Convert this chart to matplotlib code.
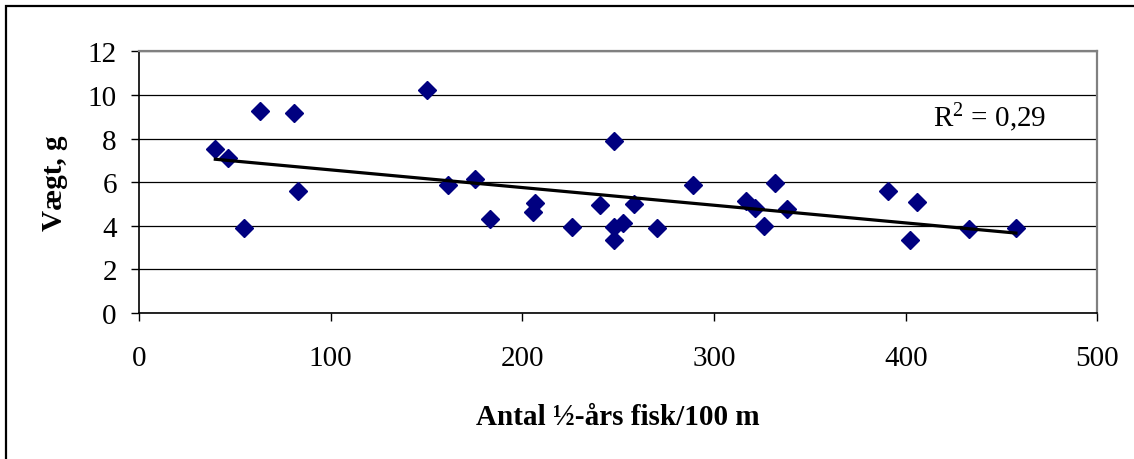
import matplotlib.pyplot as plt
import numpy as np
from matplotlib.patches import Rectangle

plt.rcParams['font.family'] = ['Liberation Serif', 'DejaVu Serif']
plt.rcParams['mathtext.fontset'] = 'custom'
plt.rcParams['mathtext.rm'] = 'Liberation Serif'
plt.rcParams['mathtext.it'] = 'Liberation Serif'

# antal 1/2-aars fisk pr. 100 m og gennemsnitsvaegt (g)
antal = [39.8, 46.6, 54.6, 63.3, 80.8, 83.1, 150.4, 161.3, 175.2, 182.9,
         205.3, 206.4, 225.8, 240.4, 247.6, 247.6, 247.6, 252.6, 258.5, 270.3,
         288.8, 316.6, 321.3, 325.9, 332.0, 338.1, 391.0, 402.5, 405.7, 433.0,
         457.5]
vaegt = [7.53, 7.10, 3.88, 9.26, 9.16, 5.61, 10.22, 5.87, 6.14, 4.32,
         4.65, 5.04, 3.96, 4.94, 7.87, 3.96, 3.36, 4.15, 5.01, 3.88,
         5.88, 5.12, 4.82, 3.98, 5.96, 4.75, 5.62, 3.36, 5.10, 3.87,
         3.90]
r2_tekst = '0,29'

xticks = [0, 100, 200, 300, 400, 500]
yticks = [0, 2, 4, 6, 8, 10, 12]

fig = plt.figure(figsize=(11.34, 4.6), dpi=100)
ax = fig.add_axes([0.1226, 0.3174, 0.9677 - 0.1226, 0.8859 - 0.3174])

# ramme rundt om hele diagrammet
fig.patches.append(Rectangle((0.0053, -0.05), 1.2, 1.0348, transform=fig.transFigure,
                             fill=False, edgecolor='black', linewidth=1.6))

ax.plot(antal, vaegt, linestyle='none', marker='D', markersize=9,
        color='#000080', zorder=3)

# lineaer tendenslinje
k, m = np.polyfit(antal, vaegt, 1)
xl = np.array([min(antal), max(antal)])
ax.plot(xl, k * xl + m, color='black', linewidth=2.3, zorder=4)

ax.text(414, 8.6, r'R$^{2}$ = ' + r2_tekst, fontsize=21, ha='left', va='baseline')

ax.set_xlim(0, 500)
ax.set_ylim(0, 12)
ax.set_xticks(xticks)
ax.set_yticks(yticks)
ax.tick_params(axis='both', direction='out', length=6, width=1, labelsize=21,
               colors='black')
ax.tick_params(axis='x', pad=17)
ax.tick_params(axis='y', pad=10)
ax.yaxis.grid(True, color='black', linewidth=0.9)
ax.set_axisbelow(True)

for s in ['top', 'right']:
    ax.spines[s].set_color('#808080')
    ax.spines[s].set_linewidth(1.6)
for s in ['left', 'bottom']:
    ax.spines[s].set_color('black')
    ax.spines[s].set_linewidth(1.2)

ax.set_xlabel('Antal ½-års fisk/100 m', fontsize=21, fontweight='bold', labelpad=23)
ax.set_ylabel('Vægt, g', fontsize=21, fontweight='bold', labelpad=14)

fig.savefig('out.png', dpi=100)
